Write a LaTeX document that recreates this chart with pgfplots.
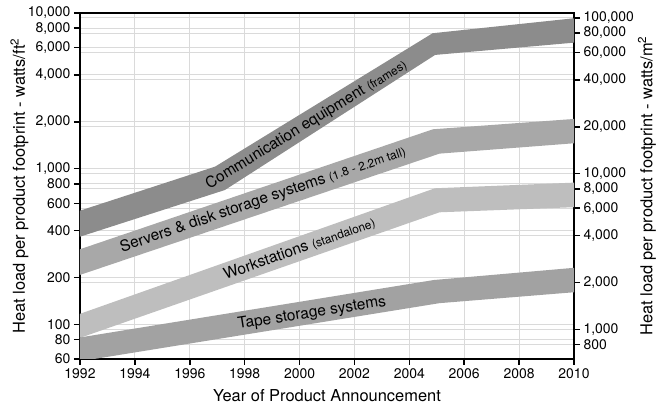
\documentclass[border=0pt]{standalone}
\usepackage{pgfplots}
\pgfplotsset{compat=1.18}
\usepackage{fontspec}
\setmainfont{TeX Gyre Heros}
\definecolor{gridc}{RGB}{218,218,218}
\definecolor{commc}{RGB}{140,140,140}
\definecolor{servc}{RGB}{168,168,168}
\definecolor{workc}{RGB}{190,190,190}
\definecolor{tapec}{RGB}{162,162,162}
\begin{document}
\begin{tikzpicture}
\useasboundingbox (-80bp,-45bp) rectangle (584bp,359bp);
% right axis (watts/m^2), drawn first so its grid lies beneath the bands
\begin{axis}[
  width=494bp, height=346bp, scale only axis,
  xmin=1992, xmax=2010,
  ymode=log,
  ymin=645.83, ymax=107639,
  tick align=outside,
  major tick length=6bp,
  tick style={black, line width=1.5bp},
  axis line style={black, line width=1.6bp},
  grid style={gridc, line width=1bp},
  minor ytick={},
  /pgf/number format/assume math mode=true,
  tick label style={font=\fontsize{14}{16}\selectfont},
  label style={font=\fontsize{16.5}{19}\selectfont},
  axis x line=none, axis y line*=right,
  ytick={800,1000,2000,4000,6000,8000,10000,20000,40000,60000,80000,100000},
  yticklabels={800,{1,000},{2,000},{4,000},{6,000},{8,000},{10,000},{20,000},{40,000},{60,000},{80,000},{100,000}},
  ymajorgrids,
  ylabel={Heat load per product footprint - watts/m\textsuperscript{2}},
  ylabel style={at={(axis description cs:1.1478,0.5)}, anchor=center},
]
\addplot[draw=none] coordinates {(1992,1000) (2010,1000)};
\end{axis}
% main axis (watts/ft^2)
\begin{axis}[
  width=494bp, height=346bp, scale only axis,
  xmin=1992, xmax=2010,
  ymode=log,
  ymin=60, ymax=10000,
  tick align=outside,
  major tick length=6bp,
  tick style={black, line width=1.5bp},
  axis line style={black, line width=1.6bp},
  grid style={gridc, line width=1bp},
  minor ytick={},
  /pgf/number format/assume math mode=true,
  tick label style={font=\fontsize{14}{16}\selectfont},
  label style={font=\fontsize{16.5}{19}\selectfont},
  xtick={1992,1994,...,2010},
  xticklabel style={/pgf/number format/1000 sep={}},
  ytick={60,80,100,200,400,600,800,1000,2000,4000,6000,8000,10000},
  yticklabels={60,80,100,200,400,600,800,{1,000},{2,000},{4,000},{6,000},{8,000},{10,000}},
  xtick pos=left, ytick pos=left,
  xmajorgrids, ymajorgrids,
  xlabel={Year of Product Announcement},
  ylabel={Heat load per product footprint - watts/ft\textsuperscript{2}},
  ylabel style={at={(axis description cs:-0.1225,0.5)}, anchor=center},
  xlabel style={at={(axis description cs:0.5,-0.1055)}, anchor=center},
]
% Communication equipment
\addplot[fill=commc, draw=none] coordinates {
  (1992,538) (1996.92,1031) (2004.85,7415) (2010,9250)
  (2010,6450) (2004.94,5380) (1997.28,730) (1992,366)} -- cycle;
% Servers
\addplot[fill=servc, draw=none] coordinates {
  (1992,304) (2004.86,1792) (2010,2087)
  (2010,1457) (2005.1,1250) (1992,208)} -- cycle;
% Workstations
\addplot[fill=workc, draw=none] coordinates {
  (1992,117) (2004.93,749) (2010,814)
  (2010,566) (2005.1,525) (1992,82)} -- cycle;
% Tape
\addplot[fill=tapec, draw=none] coordinates {
  (1992,82.5) (2004.9,193) (2010,231)
  (2010,161) (2005.1,137) (1992,58)} -- cycle;

\node[rotate=31.5, font=\fontsize{15.5}{17}\selectfont, inner sep=0pt] at (axis cs:2000.25,1909)
  {Communication equipment {\fontsize{12}{13}\selectfont (frames)}};
\node[rotate=18.8, font=\fontsize{15.5}{17}\selectfont, inner sep=0pt] at (axis cs:1998.67,630)
  {Servers \& disk storage systems {\fontsize{12}{13}\selectfont (1.8 - 2.2m tall)}};
\node[rotate=19.5, font=\fontsize{15.5}{17}\selectfont, inner sep=0pt] at (axis cs:2000.0,305)
  {Workstations {\fontsize{12}{13}\selectfont (standalone)}};
\node[rotate=8.9, font=\fontsize{15.5}{17}\selectfont, inner sep=0pt] at (axis cs:2000.45,117.6)
  {Tape storage systems};
\end{axis}
\end{tikzpicture}
\end{document}
